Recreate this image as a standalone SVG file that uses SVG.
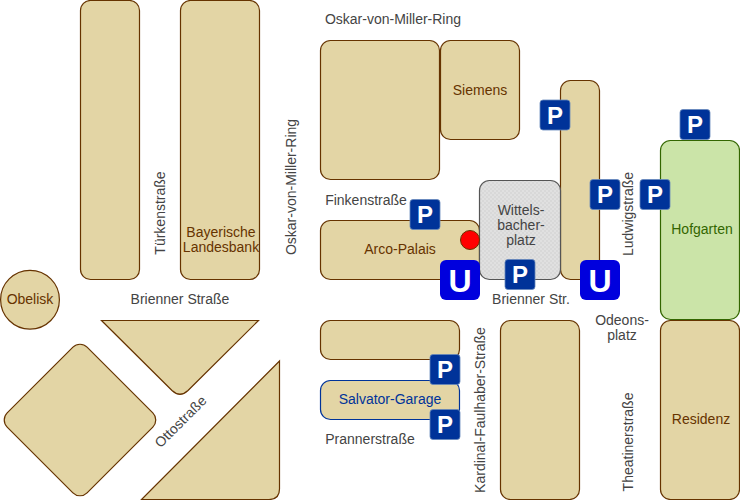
<svg xmlns="http://www.w3.org/2000/svg" width="740" height="500" viewBox="0 0 740 500">
<style>
.b{fill:#e3d5a5;stroke:#663300;stroke-width:1.2}
.t{font-family:"Liberation Sans",Arial,sans-serif;font-size:14px;fill:#444;text-anchor:middle}
.bl{fill:#663300}
.pb{fill:#003399;stroke:#6688bb;stroke-width:.8}
.ub{fill:#0000dd}
.pt{font-family:"Liberation Sans",Arial,sans-serif;font-weight:bold;font-size:24px;fill:#fff;text-anchor:middle}
.ut{font-family:"Liberation Sans",Arial,sans-serif;font-weight:bold;font-size:32px;fill:#fff;text-anchor:middle}
</style>
<defs>
<pattern id="chk" width="4" height="4" patternUnits="userSpaceOnUse"><rect width="4" height="4" fill="#d8d8d8"/><rect width="2" height="2" fill="#e0e0e0"/><rect x="2" y="2" width="2" height="2" fill="#e0e0e0"/></pattern>
<g id="P"><rect class="pb" x="-15" y="-15" width="30" height="30" rx="3"/><text class="pt" y="8.5">P</text></g>
<g id="U"><rect class="ub" x="-20" y="-20" width="40" height="40" rx="6"/><text class="ut" y="11.5">U</text></g>
</defs>
<g id="blocks">
<g id="block-a"><rect class="b" x="80.5" y="0.5" width="59" height="279" rx="10"/></g>
<g id="bayerische"><rect class="b" x="180.5" y="0.5" width="79" height="279" rx="10"/><text class="t bl" x="221" y="237">Bayerische</text><text class="t bl" x="221" y="252">Landesbank</text></g>
<g id="obelisk"><circle class="b" cx="30" cy="299.7" r="29.4"/><text class="t bl" x="30" y="304">Obelisk</text></g>
<g id="diamond"><rect class="b" x="-56.5" y="-56.5" width="113" height="113" rx="10" transform="translate(80 420) rotate(45)"/></g>
<g id="tri-1"><path class="b" d="M101.5 320.5H258.5L188 390.5Q180 398 172 390.5Z"/></g>
<g id="tri-2"><path class="b" d="M279.5 361V489Q279.5 499.5 269 499.5H141.5Z"/></g>
<g id="block-omr"><rect class="b" x="320.5" y="40.5" width="119" height="139" rx="10"/></g>
<g id="siemens"><rect class="b" x="440.5" y="40.5" width="79" height="99" rx="10"/><text class="t bl" x="480" y="95">Siemens</text></g>
<g id="block-l"><rect class="b" x="560.5" y="80.5" width="39" height="199" rx="10"/></g>
<g id="arco"><rect class="b" x="320.5" y="220.5" width="159" height="59" rx="10"/><text class="t bl" x="400" y="254">Arco-Palais</text></g>
<g id="wittelsbacher"><rect x="479.5" y="180.5" width="81" height="99" rx="10" fill="url(#chk)" stroke="#555" stroke-width="1.2"/><text class="t" x="521" y="215">Wittels-</text><text class="t" x="521" y="230">bacher-</text><text class="t" x="521" y="245">platz</text></g>
<g id="hofgarten"><rect x="660.5" y="140.5" width="79" height="179" rx="10" fill="#cbe4a8" stroke="#336600" stroke-width="1.2"/><text class="t" style="fill:#336600" x="702" y="234">Hofgarten</text></g>
<g id="residenz"><rect class="b" x="660.5" y="320.5" width="79" height="179" rx="10"/><text class="t bl" x="701" y="424">Residenz</text></g>
<g id="block-s"><rect class="b" x="320.5" y="320.5" width="139" height="39" rx="10"/></g>
<g id="salvator"><rect x="320.5" y="380.5" width="139" height="39" rx="10" fill="#e3d5a5" stroke="#003399" stroke-width="1.2"/><text class="t" style="fill:#003399" x="390" y="404">Salvator-Garage</text></g>
<g id="block-k"><rect class="b" x="500.5" y="320.5" width="79" height="179" rx="10"/></g>
</g>
<g id="labels">
<text class="t" x="393" y="24">Oskar-von-Miller-Ring</text>
<text class="t" transform="translate(296 187) rotate(-90)">Oskar-von-Miller-Ring</text>
<text class="t" transform="translate(165 213) rotate(-90)">Türkenstraße</text>
<text class="t" x="180" y="304">Brienner Straße</text>
<text class="t" transform="translate(184 425) rotate(-45)">Ottostraße</text>
<text class="t" x="366" y="205">Finkenstraße</text>
<text class="t" x="531" y="304">Brienner Str.</text>
<text class="t" transform="translate(633 214) rotate(-90)">Ludwigstraße</text>
<text class="t" x="622" y="325">Odeons-</text>
<text class="t" x="622" y="340">platz</text>
<text class="t" x="370" y="444">Prannerstraße</text>
<text class="t" transform="translate(485 410) rotate(-90)">Kardinal-Faulhaber-Straße</text>
<text class="t" transform="translate(633 442) rotate(-90)">Theatinerstraße</text>
</g>
<g id="markers">
<circle id="dot" cx="470" cy="240" r="9.5" fill="#ff0000" stroke="#663300" stroke-width="1"/>
<use id="p1" href="#P" x="555" y="115"/>
<use id="p2" href="#P" x="695" y="124.5"/>
<use id="p3" href="#P" x="605" y="194.5"/>
<use id="p4" href="#P" x="655" y="194.5"/>
<use id="p5" href="#P" x="425" y="214.5"/>
<use id="p6" href="#P" x="520" y="274.5"/>
<use id="p7" href="#P" x="445" y="369.5"/>
<use id="p8" href="#P" x="445" y="424.5"/>
<use id="u1" href="#U" x="460" y="280"/>
<use id="u2" href="#U" x="600" y="280"/>
</g>
</svg>
